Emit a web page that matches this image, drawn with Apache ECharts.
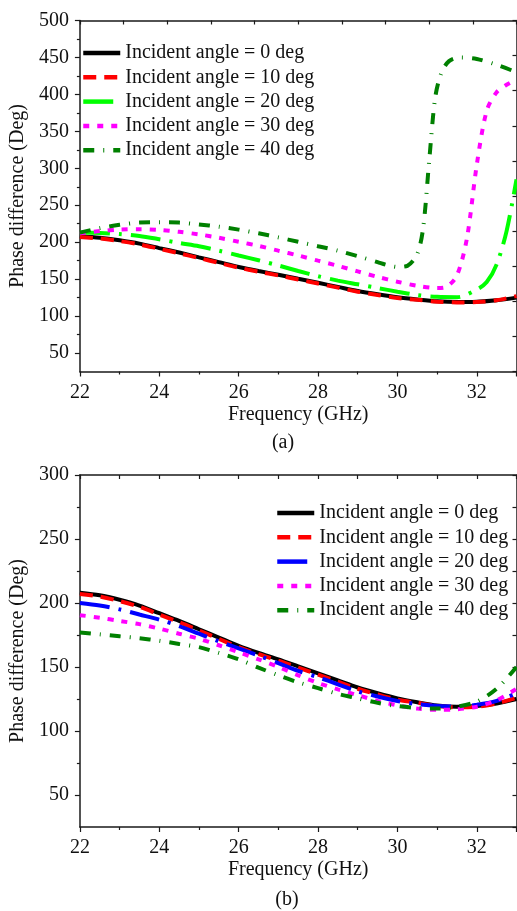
<!DOCTYPE html>
<html>
<head>
<meta charset="utf-8">
<script src="https://cdn.jsdelivr.net/npm/echarts@6/dist/echarts.min.js"></script>
<style>
html,body{margin:0;padding:0;background:#fff;}
#chart{width:517px;height:911px;}
</style>
</head>
<body>
<div id="chart"></div>
<script>
// ---------- data ----------
var names = ['Incident angle = 0 deg','Incident angle = 10 deg','Incident angle = 20 deg','Incident angle = 30 deg','Incident angle = 40 deg'];
var freq = [22,22.5,23,23.5,24,24.5,25,25.5,26,26.5,27,27.5,28,28.5,29,29.5,30,30.5,31,31.5,32,32.5,33];

// chart (a)
var a0  = [208,206,202.5,198,192,186,179.5,173,166.5,161,156,150.5,145,139.5,134,129.5,125.5,122.5,120,119,119.5,121.5,125];
var a10 = [207,205,201.5,197,191,185,178.5,172,165.5,160,155,149.5,144,138.5,133,128.5,124.5,122,119.5,118.5,119,121.5,127];
var fA20 = [22,22.5,23,23.5,24,24.5,25,25.5,26,26.5,27,27.5,28,28.5,29,29.5,30,30.5,31,31.5,32,32.25,32.5,32.75,33];
var a20  = [213,212.5,211,208.5,204,199,194.5,188.5,182,175.5,168.5,161,154,148,143,138,133,128.5,126,125.5,136,146,170,215,285];
var fA30 = [22,22.5,23,23.5,24,24.5,25,25.5,26,26.5,27,27.5,28,28.5,29,29.5,30,30.5,31,31.25,31.5,31.75,32,32.25,32.5,32.75,33];
var a30  = [212,215,217,217.5,216.5,214,210.5,206,200.5,195,188.5,182,175,168,160.5,153,146.5,141,138,140,155,205,305,378,403,413,420];
var fA40 = [22,22.5,23,23.5,24,24.5,25,25.5,26,26.5,27,27.5,28,28.5,29,29.5,29.75,30,30.25,30.5,30.65,30.8,30.95,31.1,31.3,31.6,32,32.5,33];
var a40  = [213,219,223.5,226.5,227,226.5,224,221,217,212,206.5,200.5,194.5,188.5,181,173,169,166.5,168,184,220,310,395,428,445,450,448,440,430];

// chart (b)
var b0  = [208,206,202.5,198,192,186,179.5,173,166.5,161,156,150.5,145,139.5,134,129.5,125.5,122.5,120,119,119.5,121.5,125];
var b10 = [207,205,201.5,197,191,185,178.5,172,165.5,160,155,149.5,144,138.5,133,128.5,124.5,122,119.5,118.5,119,121.5,126];
var b20 = [200,198,195,191,187,182,176,170,164.5,159,153,147,142,136.5,131,127,123.5,121,119.5,119,120.5,123.5,129.5];
var b30 = [190.5,188.5,186,183.5,180,176,172,167,161.5,156,150,143.5,137.5,132.5,128,123.5,120,117.5,116.5,117,119,124,133];
var b40 = [177,175.5,174,172.5,170.5,168,165.5,161,156,149.5,143.5,138,133.5,129,125.5,122,119.5,118,117.5,119,123,133,150];

// tick labels
var yTicksA = [50,100,150,200,250,300,350,400,450,500];
var yMinorA = [75,125,175,225,275,325,375,425,475];
var yTicksB = [50,100,150,200,250,300];
var yMinorB = [75,125,175,225,275];

// ---------- styles ----------
var FONT = "'Liberation Serif','Times New Roman',serif";
var AX = '#1a1a1a';
var dash10 = [13,8];
var dash20 = [30,9,3,9];
var dash30 = [6,8];
var dash40 = [11,9,1,9];

function pairs(xs, ys){ return xs.map(function(x,i){ return [x, ys[i]]; }); }

function mkSeries(name, data, color, type, xi, yi){
  return {
    type:'line', name:name, data:data, xAxisIndex:xi, yAxisIndex:yi,
    showSymbol:false, symbol:'none', smooth:0.3, clip:true,
    lineStyle:{color:color, width:4, type:type, cap:'butt'},
    itemStyle:{color:color}
  };
}

var namesB = names.map(function(n){ return n + ' '; });

var series = [
  mkSeries(names[0], pairs(freq,a0), '#000000', 'solid', 0, 0),
  mkSeries(names[1], pairs(freq,a10), '#ff0000', dash10, 0, 0),
  mkSeries(names[2], pairs(fA20,a20), '#00ff00', dash20, 0, 0),
  mkSeries(names[3], pairs(fA30,a30), '#ff00ff', dash30, 0, 0),
  mkSeries(names[4], pairs(fA40,a40), '#008000', dash40, 0, 0),
  mkSeries(namesB[0], pairs(freq,b0), '#000000', 'solid', 2, 3),
  mkSeries(namesB[1], pairs(freq,b10), '#ff0000', dash10, 2, 3),
  mkSeries(namesB[2], pairs(freq,b20), '#0000ff', dash20, 2, 3),
  mkSeries(namesB[3], pairs(freq,b30), '#ff00ff', dash30, 2, 3),
  mkSeries(namesB[4], pairs(freq,b40), '#008000', dash40, 2, 3)
];

function bottomX(gi){
  return {
    type:'value', gridIndex:gi, position:'bottom', min:22, max:33, interval:2,
    axisLine:{show:true, onZero:false, lineStyle:{color:AX, width:1.5}},
    axisTick:{show:true, inside:false, length:5, lineStyle:{color:AX, width:1.2}},
    minorTick:{show:true, splitNumber:2, length:3, lineStyle:{color:AX, width:1.2}},
    splitLine:{show:false},
    axisLabel:{show:true, margin:11, fontFamily:FONT, fontSize:20, color:'#111', showMaxLabel:false,
      formatter:function(v){ return (v%2===0) ? String(v) : ''; }},
    name:'Frequency (GHz)', nameLocation:'middle', nameGap:33,
    nameTextStyle:{fontFamily:FONT, fontSize:20, color:'#111'}
  };
}
function frameX(gi, min, max, interval){
  return {
    type:'value', gridIndex:gi, position:'top', min:min, max:max, interval:interval,
    axisLine:{show:true, onZero:false, lineStyle:{color:AX, width:1.5}},
    axisTick:{show:true, inside:true, length:4, lineStyle:{color:AX, width:1.2}},
    axisLabel:{show:false}, splitLine:{show:false}
  };
}
function leftY(gi, min, max, ticks){
  return {
    type:'value', gridIndex:gi, position:'left', min:min, max:max, interval:25,
    axisLine:{show:true, onZero:false, lineStyle:{color:AX, width:1.5}},
    axisTick:{show:true, inside:false, length:5, customValues:ticks, lineStyle:{color:AX, width:1.2}},
    axisLabel:{show:true, margin:11, customValues:ticks, fontFamily:FONT, fontSize:20, color:'#111'},
    splitLine:{show:false},
    name:'Phase difference (Deg)', nameLocation:'middle', nameGap:42,
    nameTextStyle:{fontFamily:FONT, fontSize:20, color:'#111'}
  };
}
function minorY(gi, min, max, ticks){
  return {
    type:'value', gridIndex:gi, position:'left', min:min, max:max, interval:25,
    axisLine:{show:false},
    axisTick:{show:true, inside:false, length:3, customValues:ticks, lineStyle:{color:AX, width:1.2}},
    axisLabel:{show:false}, splitLine:{show:false}
  };
}
function rightY(gi, min, max, interval){
  return {
    type:'value', gridIndex:gi, position:'right', min:min, max:max, interval:interval,
    axisLine:{show:true, onZero:false, lineStyle:{color:AX, width:1.5}},
    axisTick:{show:true, inside:true, length:4, lineStyle:{color:AX, width:1.2}},
    axisLabel:{show:false}, splitLine:{show:false}
  };
}

var legendBase = {
  orient:'vertical', itemWidth:37, itemHeight:14, itemGap:4.3, padding:0,
  selectedMode:false,
  itemStyle:{opacity:0},
  lineStyle:{width:4.5},
  textStyle:{fontFamily:FONT, fontSize:20, color:'#111', lineHeight:20}
};

var option = {
  animation:false,
  backgroundColor:'#ffffff',
  grid:[
    {left:76.5, top:20.5, width:440, height:351, containLabel:false},
    {left:76.5, top:475, width:440, height:352, containLabel:false}
  ],
  xAxis:[ bottomX(0), frameX(0,0,10,1), bottomX(1), frameX(1,22,33,1) ],
  yAxis:[ leftY(0,25,500,yTicksA), minorY(0,25,500,yMinorA), rightY(0,0,10,1),
          leftY(1,25,300,yTicksB), minorY(1,25,300,yMinorB), rightY(1,25,300,25) ],
  legend:[
    Object.assign({}, legendBase, {data:names, left:81, top:43}),
    Object.assign({}, legendBase, {data:namesB, left:275, top:503})
  ],
  graphic:[
    {type:'text', x:283, y:443, style:{text:'(a)', font:'20px ' + FONT, fill:'#111', textAlign:'center', textVerticalAlign:'middle'}},
    {type:'text', x:287, y:900, style:{text:'(b)', font:'20px ' + FONT, fill:'#111', textAlign:'center', textVerticalAlign:'middle'}}
  ],
  series:series
};

var chart = echarts.init(document.getElementById('chart'), null, {renderer:'canvas'});
chart.setOption(option);
</script>
</body>
</html>
